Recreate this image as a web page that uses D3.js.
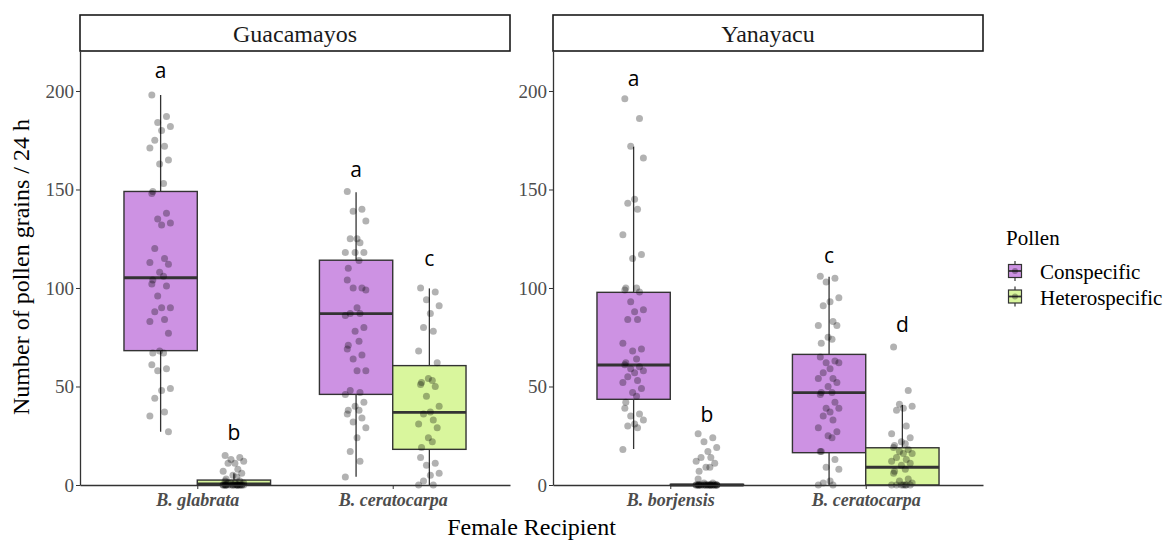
<!DOCTYPE html>
<html>
<head>
<meta charset="utf-8">
<script src="https://cdn.jsdelivr.net/npm/d3@7"></script>
<style>
  body { margin: 0; background: #fff; }
  svg { display: block; }
</style>
</head>
<body>
<svg id="chart" width="1169" height="542"></svg>
<script>
// ---- data ----
var sites = ['Guacamayos', 'Yanayacu']
var recipients = [['B. glabrata', 'B. ceratocarpa'], ['B. borjensis', 'B. ceratocarpa']]
var pollenTypes = ['Conspecific', 'Heterospecific']
var yTicks = [0, 50, 100, 150, 200]

// one entry per box: site 0/1, recipient 0/1, pollen 0/1
var boxSite = [0, 0, 0, 0, 1, 1, 1, 1]
var boxRecipient = [0, 0, 1, 1, 0, 0, 1, 1]
var boxPollen = [0, 1, 0, 1, 0, 1, 0, 1]
var whiskerLow = [27, 0, 4.2, 0, 18.3, 0, 0, 0]
var q1 = [68.2, 0, 46, 18.1, 43.5, 0, 16.4, 0]
var median = [105.2, 0.5, 87, 36.9, 60.9, 0, 46.9, 9]
var q3 = [149, 2.5, 114.1, 60.6, 97.8, 0.3, 66.3, 18.9]
var whiskerHigh = [198, 6, 148.6, 99.8, 171.7, 0, 105.7, 40.6]
var letters = ['a', 'b', 'a', 'c', 'a', 'b', 'c', 'd']
var letterAt = [206.4, 22.8, 156.5, 111.2, 202.5, 31.8, 112.8, 77.5]

var gGlabCon = [198, 187, 184, 182, 180, 175, 172, 171, 165, 163, 153, 149, 148, 138, 135, 133, 132, 120, 115, 113, 112, 108, 106, 104, 102, 101, 96, 90, 90, 88, 84, 83, 77, 68, 67, 67, 61, 59, 58, 49, 48, 44, 37, 35, 27]
var gGlabHet = [15, 14, 13, 12, 11, 11, 8, 7, 6, 5, 4, 3, 2, 2, 1, 1, 1, 1, 0, 0, 0, 0, 0, 0, 0, 0, 0, 0, 0, 0, 0, 0, 0, 0, 0, 0, 0, 0]
var gCerCon = [149, 140, 139, 134, 125, 125, 123, 118, 118, 118, 114, 110, 104, 100, 100, 99, 90, 87, 87, 86, 80, 78, 73, 71, 69, 66, 64, 58, 58, 48, 47, 46, 42, 40, 38, 38, 36, 34, 32, 29, 24, 17, 12, 4]
var gCerHet = [100, 98, 94, 91, 87, 80, 78, 68, 62, 54, 53, 52, 51, 50, 45, 40, 37, 36, 33, 31, 29, 24, 22, 19, 14, 11, 10, 6, 5, 2, 0, 0]
var yBorjCon = [196, 186, 172, 166, 145, 143, 140, 127, 117, 115, 100, 100, 99, 98, 93, 89, 88, 84, 84, 72, 69, 68, 64, 62, 61, 60, 59, 58, 57, 55, 53, 52, 49, 47, 45, 42, 39, 36, 35, 33, 31, 30, 29, 18]
var yBorjHet = [26, 24, 22, 19, 17, 14, 14, 12, 11, 9, 9, 7, 3, 1, 1, 0, 0, 0, 0, 0, 0, 0, 0, 0, 0, 0, 0, 0, 0, 0, 0, 0, 0, 0, 0, 0, 0, 0, 0, 0]
var yCerCon = [106, 105, 103, 95, 93, 91, 83, 81, 81, 75, 74, 72, 65, 63, 62, 62, 59, 57, 54, 54, 52, 50, 47, 47, 46, 42, 39, 39, 37, 35, 33, 29, 27, 25, 24, 17, 17, 13, 9, 8, 2, 1, 0, 0]
var yCerHet = [70, 48, 41, 40, 39, 38, 30, 26, 24, 22, 21, 20, 19, 18, 17, 16, 16, 14, 13, 12, 11, 10, 8, 7, 6, 3, 2, 1, 0, 0, 0, 0, 0, 0, 0]
var boxPoints = [gGlabCon, gGlabHet, gCerCon, gCerHet, yBorjCon, yBorjHet, yCerCon, yCerHet]

// fixed horizontal spread (in x units) used in place of random jitter
var spread = [-0.045, 0.03, -0.015, 0.05, 0.005, -0.03, 0.02, -0.055, 0.04, -0.005, 0.015, -0.04]

// ---- layout ----
var fills = ['#cd92e3', '#d9f69d']
var ink = '#333333'
var serif = '"Liberation Serif", "Times New Roman", serif'
var panelLeft = [80, 553]
var panelWidth = 430
var plotTop = 51
var plotBottom = 485

var svg = d3.select('#chart')

var y = d3.scaleLinear().domain([0, 220.3]).range([plotBottom, plotTop])

sites.forEach(function (site, s) {
  var x = d3.scaleLinear()
    .domain([0.4, 2.6])
    .range([panelLeft[s], panelLeft[s] + panelWidth])
  var g = svg.append('g')

  // strip
  g.append('rect')
    .attr('x', panelLeft[s]).attr('y', 15)
    .attr('width', panelWidth).attr('height', 36)
    .attr('fill', '#fff').attr('stroke', '#1a1a1a').attr('stroke-width', 1.6)
  g.append('text')
    .attr('x', panelLeft[s] + panelWidth / 2).attr('y', 41.5)
    .attr('text-anchor', 'middle')
    .style('font-family', serif).style('font-size', '24px').attr('fill', '#1a1a1a')
    .text(site)

  var idx = d3.range(boxSite.length).filter(function (i) { return boxSite[i] === s })
  var half = 0.1875
  var center = function (i) { return boxRecipient[i] + 1 + (boxPollen[i] === 0 ? -half : half) }

  // whiskers
  g.selectAll('.whisker')
    .data(idx).enter().append('line')
    .attr('x1', function (i) { return x(center(i)) })
    .attr('x2', function (i) { return x(center(i)) })
    .attr('y1', function (i) { return y(whiskerLow[i]) })
    .attr('y2', function (i) { return y(whiskerHigh[i]) })
    .attr('stroke', ink).attr('stroke-width', 1.3)

  // boxes
  g.selectAll('.box')
    .data(idx).enter().append('rect')
    .attr('x', function (i) { return x(center(i) - half) })
    .attr('width', function () { return x(2 * half) - x(0) })
    .attr('y', function (i) { return y(q3[i]) })
    .attr('height', function (i) { return y(q1[i]) - y(q3[i]) })
    .attr('fill', function (i) { return fills[boxPollen[i]] })
    .attr('stroke', ink).attr('stroke-width', 1.4)

  // medians
  g.selectAll('.median')
    .data(idx).enter().append('line')
    .attr('x1', function (i) { return x(center(i) - half) })
    .attr('x2', function (i) { return x(center(i) + half) })
    .attr('y1', function (i) { return y(median[i]) })
    .attr('y2', function (i) { return y(median[i]) })
    .attr('stroke', ink).attr('stroke-width', 2.8)

  // jittered points
  idx.forEach(function (i) {
    g.selectAll(null)
      .data(boxPoints[i]).enter().append('circle')
      .attr('cx', function (v, k) { return x(center(i) + spread[k % spread.length]) })
      .attr('cy', function (v) { return y(v) })
      .attr('r', 3.5)
      .attr('fill', '#000').attr('fill-opacity', 0.3)
  })

  // significance letters
  g.selectAll('.letter')
    .data(idx).enter().append('text')
    .attr('x', function (i) { return x(center(i)) })
    .attr('y', function (i) { return y(letterAt[i]) })
    .attr('text-anchor', 'middle')
    .style('font-family', '"Open Sans", sans-serif').style('font-size', '21px')
    .attr('fill', '#000')
    .text(function (i) { return letters[i] })

  // axes
  var yAxis = g.append('g')
    .attr('transform', 'translate(' + panelLeft[s] + ',0)')
    .call(d3.axisLeft(y).tickValues(yTicks).tickSize(4).tickSizeOuter(0).tickPadding(2))
  yAxis.select('.domain').attr('stroke', ink).attr('stroke-width', 1.3)
  yAxis.selectAll('.tick line').attr('stroke', ink)
  yAxis.selectAll('.tick text')
    .style('font-family', serif).style('font-size', '19px').attr('fill', '#4d4d4d')

  var xAxis = g.append('g')
    .attr('transform', 'translate(0,' + plotBottom + ')')
    .call(d3.axisBottom(x).tickValues([1, 2]).tickSize(4).tickSizeOuter(0).tickPadding(4)
      .tickFormat(function (d) { return recipients[s][d - 1] }))
  xAxis.select('.domain').attr('stroke', ink).attr('stroke-width', 1.3)
  xAxis.selectAll('.tick line').attr('stroke', ink)
  xAxis.selectAll('.tick text')
    .style('font-family', serif).style('font-size', '18px')
    .style('font-style', 'italic').style('font-weight', 'bold').attr('fill', '#4d4d4d')
})

// axis titles
svg.append('text')
  .attr('x', (panelLeft[0] + panelLeft[1] + panelWidth) / 2).attr('y', 535)
  .attr('text-anchor', 'middle')
  .style('font-family', serif).style('font-size', '24px').attr('fill', '#000')
  .text('Female Recipient')
svg.append('text')
  .attr('transform', 'translate(29,' + 267 + ') rotate(-90)')
  .attr('text-anchor', 'middle')
  .style('font-family', serif).style('font-size', '24px').attr('fill', '#000')
  .text('Number of pollen grains / 24 h')

// legend
var legend = svg.append('g').attr('transform', 'translate(1006,0)')
legend.append('text')
  .attr('x', 0).attr('y', 245)
  .style('font-family', serif).style('font-size', '21px').attr('fill', '#000')
  .text('Pollen')
pollenTypes.forEach(function (p, k) {
  var cy = 271 + k * 25.5
  var key = legend.append('g').attr('transform', 'translate(9,' + cy + ')')
  key.append('line').attr('y1', -10).attr('y2', 10).attr('stroke', ink).attr('stroke-width', 1.2)
  key.append('rect').attr('x', -6.5).attr('y', -6.5).attr('width', 13).attr('height', 13)
    .attr('fill', fills[k]).attr('stroke', ink).attr('stroke-width', 1.2)
  key.append('line').attr('x1', -6.5).attr('x2', 6.5).attr('stroke', ink).attr('stroke-width', 1.8)
  key.append('circle').attr('r', 3).attr('fill', '#000').attr('fill-opacity', 0.3)
  legend.append('text')
    .attr('x', 34).attr('y', cy + 8)
    .style('font-family', serif).style('font-size', '21px').attr('fill', '#000')
    .text(p)
})
</script>
</body>
</html>
